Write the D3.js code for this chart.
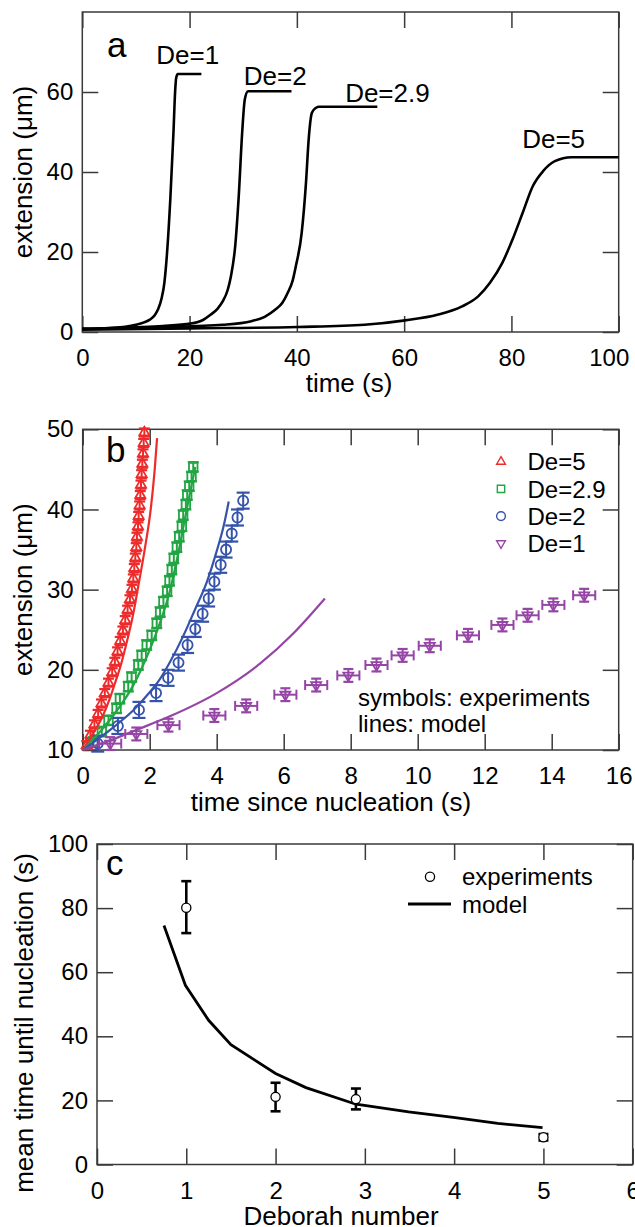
<!DOCTYPE html>
<html><head><meta charset="utf-8">
<script src="https://cdn.jsdelivr.net/npm/d3@7"></script>
<style>
html,body{margin:0;padding:0;background:#fff;}
svg{display:block;}
text{font-family:"Liberation Sans",Arial,Helvetica,sans-serif;}
</style></head>
<body>
<svg id="chart" width="635" height="1227"></svg>
<script>
// ---------- DATA ----------
// Panel a: extension (um) vs time (s), model curves
const aTicksX = [0, 20, 40, 60, 80, 100];
const aTicksY = [0, 20, 40, 60];
const aLabels = ["De=1", "De=2", "De=2.9", "De=5"];
const aDe1 = [[0,0.8],[5,1.0],[8,1.3],[10,1.8],[11.5,2.4],[12.6,3.1],[13.5,4.2],[14.1,5.6],[14.8,8.5],[15.3,12.3],[15.8,19.8],[16.4,33],[17.0,50],[17.3,60],[17.5,63.5],[17.8,64.5],[22.2,64.5]];
const aDe2 = [[0,0.8],[10,1.2],[15,1.5],[20.2,2.1],[22.5,3.0],[23.9,4.3],[25.2,5.8],[26.2,7.7],[27.1,10.5],[27.7,13.9],[28.5,21.4],[29.2,34.8],[29.8,49.8],[30.3,58.2],[30.9,60.2],[39,60.2]];
const aDe29 = [[0,0.8],[15,1.2],[26.2,1.8],[31.5,2.7],[34,3.8],[36,5.6],[37.3,7.3],[38.3,9.8],[39.2,12.8],[39.8,16.4],[40.9,24.8],[41.7,37.3],[42.2,48.1],[42.8,54.8],[43.5,56.0],[44.2,56.3],[55,56.3]];
const aDe5 = [[0,0.6],[20,0.9],[40.2,1.25],[52.6,1.8],[60.2,2.9],[66.2,4.3],[70.8,6.4],[73.8,8.9],[76,12.3],[78.3,17.3],[80.2,23.1],[82.1,29.8],[84,36.5],[85.9,40.2],[88.1,42.7],[91.2,43.7],[100,43.7]];

// Panel b: extension vs time since nucleation
const bTicksX = [0, 2, 4, 6, 8, 10, 12, 14, 16];
const bTicksY = [10, 20, 30, 40, 50];
const bLegend = ["De=5", "De=2.9", "De=2", "De=1"];
const bExpDe5 = [[0.12,10.6],[0.23,11.9],[0.35,13.2],[0.46,14.5],[0.56,15.8],[0.66,17.1],[0.77,18.4],[0.88,19.7],[0.96,21.0],[1.04,22.3],[1.12,23.6],[1.20,24.9],[1.27,26.2],[1.34,27.5],[1.41,28.8],[1.47,30.1],[1.51,31.4],[1.54,32.7],[1.57,34.0],[1.60,35.3],[1.62,36.6],[1.65,37.9],[1.67,39.2],[1.70,40.5],[1.72,41.8],[1.74,43.1],[1.76,44.4],[1.78,45.7],[1.80,47.0],[1.82,48.3],[1.84,49.6]];
const bExpDe29 = [[0.32,11.0],[0.57,12.3],[0.77,13.7],[1.01,15.2],[1.11,16.4],[1.36,17.9],[1.46,19.1],[1.66,20.6],[1.76,21.8],[1.91,23.1],[2.06,24.3],[2.21,25.8],[2.31,27.2],[2.41,28.5],[2.52,29.8],[2.59,31.1],[2.66,32.5],[2.72,33.9],[2.81,35.3],[2.88,36.6],[2.96,37.9],[3.00,39.3],[3.08,40.6],[3.12,41.8],[3.18,42.9],[3.25,44.1],[3.30,45.3]];
const bExpDe2 = [[0.45,10.8],[1.05,13.0],[1.68,15.0],[2.19,17.1],[2.55,19.0],[2.86,20.9],[3.13,23.1],[3.36,25.1],[3.58,27.0],[3.76,28.9],[3.93,31.0],[4.12,33.1],[4.28,35.0],[4.45,37.0],[4.62,39.0],[4.79,41.1]];
const bExpDe1 = [[0.82,10.8],[1.6,12.0],[2.56,13.1],[3.93,14.3],[4.88,15.5],[6.05,16.9],[6.97,18.1],[7.93,19.3],[8.77,20.6],[9.55,21.8],[10.36,23.0],[11.5,24.3],[12.53,25.6],[13.28,26.8],[14.05,28.1],[14.97,29.3]];
const bErrY = [0.5, 0.6, 1.0, 0.8];   // De=5, 2.9, 2, 1
const bErrX = [0, 0, 0, 0.33];
const bModDe5 = [[0,10],[0.2,11.3],[0.4,12.7],[0.57,14.0],[0.8,16.3],[1.0,18.8],[1.11,20.2],[1.3,23.2],[1.5,26.8],[1.67,30.7],[1.85,35.0],[2.03,40],[2.15,45],[2.22,48.9]];
const bModDe29 = [[0,10],[0.5,12.2],[1.0,14.8],[1.5,18],[2.0,22.5],[2.3,25.8],[2.6,29.8],[2.85,34.5],[3.05,38.8],[3.2,42.0],[3.36,45.3]];
const bModDe2 = [[0,10],[0.4,11.2],[0.82,12.5],[1.2,13.8],[1.52,15],[2.0,17.2],[2.3,18.8],[2.61,21.0],[3.0,24.2],[3.35,27.5],[3.71,31],[4.0,34.8],[4.2,37.8],[4.36,41.0]];
const bModDe1 = [[0,10],[0.82,11.2],[1.6,12.5],[2.6,14.2],[4.0,17.1],[5.3,20.8],[6.3,24.6],[7.23,28.9]];

// Panel c: mean time until nucleation vs Deborah number
const cTicksX = [0, 1, 2, 3, 4, 5, 6];
const cTicksY = [0, 20, 40, 60, 80, 100];
const cExpDe = [1, 2, 2.9, 5];
const cExpMean = [80.1, 21.1, 20.4, 8.5];
const cExpLow = [72.2, 16.6, 17.2, 7.5];
const cExpHigh = [88.4, 25.5, 23.7, 9.5];
const cModDe = [0.75, 0.99, 1.25, 1.5, 2.0, 2.34, 2.9, 3.49, 3.99, 4.49, 4.99];
const cModT = [74.6, 55.9, 45, 37.4, 28.4, 24, 18.8, 16.4, 14.7, 12.8, 11.5];

// ---------- DRAW ----------
const svg = d3.select("#chart");
const FONT = '"Liberation Sans",Arial,Helvetica,sans-serif';
const AX = "#3a3a3a";
const COLORS = ["#ee2b2b", "#22a543", "#3553aa", "#9545a5"];
const fmt = d3.format("d");

function frame(x, y, xt, yt) {
  const [x0, x1] = x.range(), [y0, y1] = y.range();
  const style = g => {
    g.select(".domain").remove();
    g.attr("font-size", 24).attr("font-family", FONT);
    g.selectAll(".tick line").attr("stroke", AX).attr("stroke-width", 1.5);
    g.selectAll(".tick text").attr("fill", "#000");
  };
  const bottom = svg.append("g").attr("transform", `translate(0,${y0})`)
    .call(d3.axisBottom(x).tickValues(xt).tickFormat(fmt).tickSizeInner(-16).tickSizeOuter(0).tickPadding(17)).call(style);
  svg.append("g").attr("transform", `translate(0,${y1})`)
    .call(d3.axisTop(x).tickValues(xt).tickSizeInner(-16).tickSizeOuter(0).tickFormat("")).call(style);
  svg.append("g").attr("transform", `translate(${x0},0)`)
    .call(d3.axisLeft(y).tickValues(yt).tickFormat(fmt).tickSizeInner(-16).tickSizeOuter(0).tickPadding(9)).call(style);
  svg.append("g").attr("transform", `translate(${x1},0)`)
    .call(d3.axisRight(y).tickValues(yt).tickSizeInner(-16).tickSizeOuter(0).tickFormat("")).call(style);
  svg.append("rect").attr("x", x0).attr("y", y1).attr("width", x1 - x0).attr("height", y0 - y1)
    .attr("fill", "none").attr("stroke", AX).attr("stroke-width", 1.5);
  return bottom;
}
function ytitle(txt, cx, cy) {
  svg.append("text").attr("transform", `translate(${cx},${cy}) rotate(-90)`)
    .attr("text-anchor", "middle").attr("dy", "0.26em").attr("font-size", 26).text(txt);
}
function xtitle(txt, cx, base) {
  svg.append("text").attr("x", cx).attr("y", base).attr("text-anchor", "middle").attr("font-size", 26).text(txt);
}
function letter(txt, lx, base) {
  svg.append("text").attr("x", lx).attr("y", base).attr("font-size", 35).text(txt);
}

// ----- Panel a -----
const ax = d3.scaleLinear().domain([0, 100]).range([82.3, 618.7]);
const ay = d3.scaleLinear().domain([0, 80]).range([332, 12]);
const aBottom = frame(ax, ay, aTicksX, aTicksY);
// last label ("100") is pulled inside the page as in the original
aBottom.selectAll(".tick text").filter(d => d === 100).attr("dx", -10);
const aLine = d3.line().x(d => ax(d[0])).y(d => ay(d[1])).curve(d3.curveMonotoneX);
[aDe1, aDe2, aDe29, aDe5].forEach(s => {
  svg.append("path").attr("d", aLine(s)).attr("fill", "none").attr("stroke", "#000").attr("stroke-width", 2.6);
});
// label anchors in data units (start x, baseline y)
const aLabelAnchor = [[13.8, 67], [30.1, 61.7], [49.0, 57.4], [82.0, 46.1]];
aLabels.forEach((t, i) => {
  svg.append("text").attr("x", ax(aLabelAnchor[i][0])).attr("y", ay(aLabelAnchor[i][1]))
    .attr("font-size", 26).text(t);
});
letter("a", 107, 57);
ytitle("extension (\u03BCm)", 25.5, ay(40));
xtitle("time (s)", 349, 392);

// ----- Panel b -----
const bx = d3.scaleLinear().domain([0, 16]).range([82.7, 618.7]);
const by = d3.scaleLinear().domain([10, 50]).range([750, 429.3]);
frame(bx, by, bTicksX, bTicksY);
const bLine = d3.line().x(d => bx(d[0])).y(d => by(d[1])).curve(d3.curveMonotoneX);
const bMods = [bModDe5, bModDe29, bModDe2, bModDe1];
const bExps = [bExpDe5, bExpDe29, bExpDe2, bExpDe1];
const symTypes = [d3.symbolTriangle, d3.symbolSquare, d3.symbolCircle, d3.symbolTriangle];
const symSizes = [44, 72, 80, 44];
const symRot = [0, 0, 0, 180];
const capW = [11, 11, 13, 10];

bExps.forEach((s, i) => {
  const col = COLORS[i];
  const g = svg.append("g").attr("stroke", col).attr("fill", "none");
  s.forEach(d => {
    const px = bx(d[0]), py = by(d[1]);
    const yl = by(d[1] - bErrY[i]), yh = by(d[1] + bErrY[i]);
    g.append("line").attr("x1", px).attr("x2", px).attr("y1", yl).attr("y2", yh).attr("stroke-width", 2);
    g.append("line").attr("x1", px - capW[i] / 2).attr("x2", px + capW[i] / 2).attr("y1", yl).attr("y2", yl).attr("stroke-width", 2.2);
    g.append("line").attr("x1", px - capW[i] / 2).attr("x2", px + capW[i] / 2).attr("y1", yh).attr("y2", yh).attr("stroke-width", 2.2);
    if (bErrX[i] > 0) {
      const xl = bx(d[0] - bErrX[i]), xh = bx(d[0] + bErrX[i]);
      g.append("line").attr("x1", xl).attr("x2", xh).attr("y1", py).attr("y2", py).attr("stroke-width", 2);
      g.append("line").attr("x1", xl).attr("x2", xl).attr("y1", py - 5).attr("y2", py + 5).attr("stroke-width", 2);
      g.append("line").attr("x1", xh).attr("x2", xh).attr("y1", py - 5).attr("y2", py + 5).attr("stroke-width", 2);
    }
    g.append("path").attr("d", d3.symbol().type(symTypes[i]).size(symSizes[i])())
      .attr("transform", `translate(${px},${py}) rotate(${symRot[i]})`).attr("stroke-width", 1.8);
  });
});
bMods.forEach((s, i) => {
  svg.append("path").attr("d", bLine(s)).attr("fill", "none").attr("stroke", COLORS[i]).attr("stroke-width", 2.2);
});
// legend
bLegend.forEach((t, i) => {
  const ly = 461.7 + i * 27.2;
  svg.append("path").attr("d", d3.symbol().type(symTypes[i]).size(symSizes[i] * 0.75)())
    .attr("transform", `translate(501,${ly}) rotate(${symRot[i]})`)
    .attr("fill", "none").attr("stroke", COLORS[i]).attr("stroke-width", 1.4);
  svg.append("text").attr("x", 527.5).attr("y", ly).attr("dy", "0.36em").attr("font-size", 24).text(t);
});
svg.append("text").attr("x", 358).attr("y", 705.5).attr("font-size", 24).text("symbols: experiments");
svg.append("text").attr("x", 358).attr("y", 731.5).attr("font-size", 24).text("lines: model");
letter("b", 106, 462);
ytitle("extension (\u03BCm)", 25.5, by(30));
xtitle("time since nucleation (s)", 331, 811);

// ----- Panel c -----
const cx = d3.scaleLinear().domain([0, 6]).range([97, 632.7]);
const cy = d3.scaleLinear().domain([0, 100]).range([1164.5, 844]);
frame(cx, cy, cTicksX, cTicksY);
const cLine = d3.line().x((d, i) => cx(cModDe[i])).y((d, i) => cy(cModT[i]));
svg.append("path").attr("d", cLine(cModDe)).attr("fill", "none").attr("stroke", "#000").attr("stroke-width", 2.8);
cExpDe.forEach((de, i) => {
  const px = cx(de);
  const yl = cy(cExpLow[i]), yh = cy(cExpHigh[i]);
  svg.append("line").attr("x1", px).attr("x2", px).attr("y1", yl).attr("y2", yh).attr("stroke", "#000").attr("stroke-width", 2.6);
  [yl, yh].forEach(yy => svg.append("line").attr("x1", px - 5).attr("x2", px + 5).attr("y1", yy).attr("y2", yy).attr("stroke", "#000").attr("stroke-width", 2.6));
  svg.append("circle").attr("cx", px).attr("cy", cy(cExpMean[i])).attr("r", 4.6)
    .attr("fill", "#fff").attr("stroke", "#000").attr("stroke-width", 1.3);
});
// legend
svg.append("circle").attr("cx", 430).attr("cy", 876.7).attr("r", 4.6).attr("fill", "none").attr("stroke", "#000").attr("stroke-width", 1.3);
svg.append("text").attr("x", 462).attr("y", 876.7).attr("dy", "0.36em").attr("font-size", 24).text("experiments");
svg.append("line").attr("x1", 408).attr("x2", 451).attr("y1", 904).attr("y2", 904).attr("stroke", "#000").attr("stroke-width", 2.8);
svg.append("text").attr("x", 462).attr("y", 904).attr("dy", "0.36em").attr("font-size", 24).text("model");
letter("c", 106, 875);
ytitle("mean time until nucleation (s)", 26.5, 1023);
xtitle("Deborah number", 341, 1225);
</script>
</body></html>
